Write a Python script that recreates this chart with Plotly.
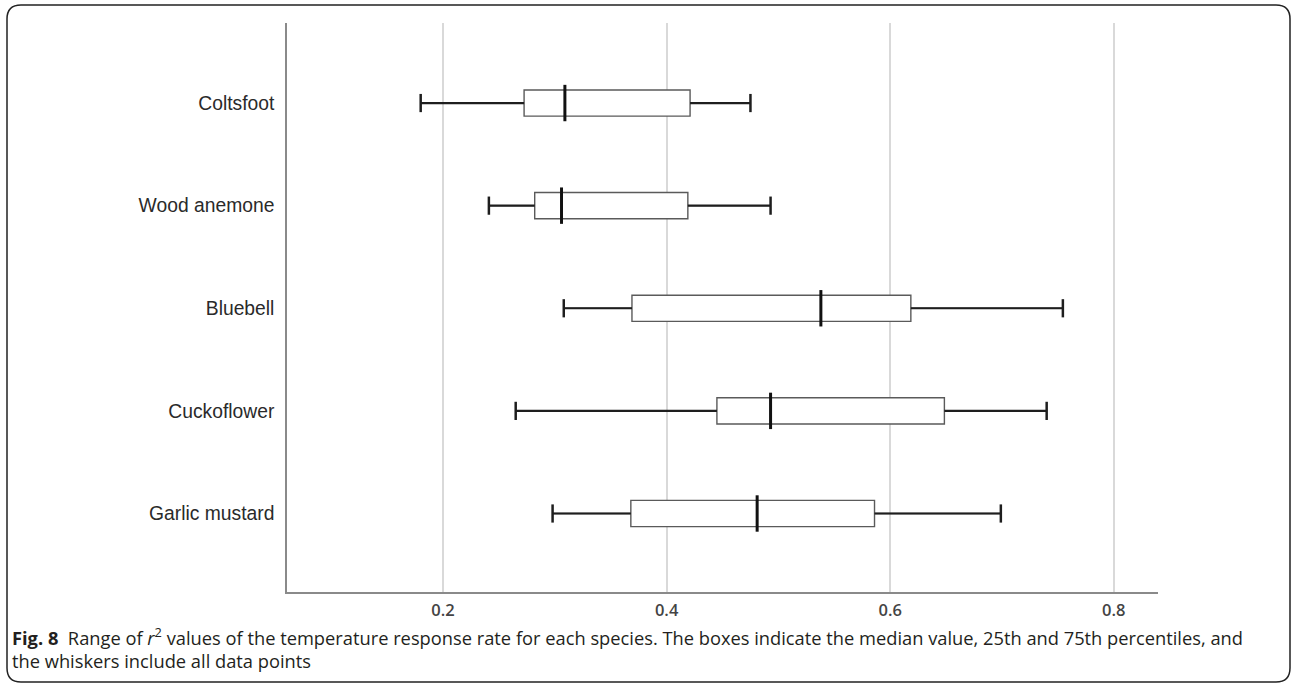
import plotly.graph_objects as go

W, H = 1292, 684

species = ["Coltsfoot", "Wood anemone", "Bluebell", "Cuckoflower", "Garlic mustard"]
low = [0.180, 0.241, 0.308, 0.265, 0.298]
q1 = [0.2725, 0.282, 0.369, 0.445, 0.368]
median = [0.309, 0.306, 0.538, 0.493, 0.481]
q3 = [0.421, 0.419, 0.6185, 0.6485, 0.586]
high = [0.475, 0.493, 0.7545, 0.740, 0.699]
x_ticks = [0.2, 0.4, 0.6, 0.8]
x_tick_labels = ["0.2", "0.4", "0.6", "0.8"]

pos = list(range(len(species)))

fig = go.Figure()

fig.add_trace(go.Box(
    y=pos, q1=q1, median=median, q3=q3, lowerfence=low, upperfence=high,
    orientation="h", width=0.255, fillcolor="white",
    line=dict(color="#5a5a5a", width=1.4), whiskerwidth=0,
    hoverinfo="skip", showlegend=False,
))

wx, wy = [], []
for i in pos:
    wx += [low[i], q1[i], None, q3[i], high[i], None]
    wy += [i, i, None, i, i, None]
fig.add_trace(go.Scatter(x=wx, y=wy, mode="lines",
                         line=dict(color="#1e1e1e", width=2.2),
                         hoverinfo="skip", showlegend=False))

fig.add_trace(go.Scatter(x=low + high, y=pos + pos, mode="markers",
                         marker=dict(symbol="line-ns", size=13,
                                     line=dict(color="#1e1e1e", width=2.5)),
                         hoverinfo="skip", showlegend=False))

fig.add_trace(go.Scatter(x=median, y=pos, mode="markers",
                         marker=dict(symbol="line-ns", size=26,
                                     line=dict(color="#111111", width=3)),
                         hoverinfo="skip", showlegend=False))

def px(x):
    return x / W

def py(y):
    return 1 - y / H

# rounded frame
x0, y0, x1, y1, r = 7, 5, 1290, 682, 14
path = (f"M {px(x0 + r)},{py(y0)} L {px(x1 - r)},{py(y0)} "
        f"Q {px(x1)},{py(y0)} {px(x1)},{py(y0 + r)} "
        f"L {px(x1)},{py(y1 - r)} Q {px(x1)},{py(y1)} {px(x1 - r)},{py(y1)} "
        f"L {px(x0 + r)},{py(y1)} Q {px(x0)},{py(y1)} {px(x0)},{py(y1 - r)} "
        f"L {px(x0)},{py(y0 + r)} Q {px(x0)},{py(y0)} {px(x0 + r)},{py(y0)} Z")
fig.add_shape(type="path", path=path, xref="paper", yref="paper",
              line=dict(color="#222222", width=1.5), fillcolor="rgba(0,0,0,0)")

caption = ("<b>Fig. 8</b>\u00a0\u00a0Range of <i>r</i><sup>2</sup> values of the temperature "
           "response rate for each species. The boxes indicate the median value, "
           "25th and 75th percentiles, and<br>the whiskers include all data points")
fig.add_annotation(text=caption, x=px(10), y=py(648), xref="paper", yref="paper",
                   xanchor="left", yanchor="middle", align="left", showarrow=False,
                   font=dict(family="Open Sans", size=18.3, color="#231f20"))

fig.update_layout(
    width=W, height=H,
    margin=dict(l=0, r=0, t=0, b=0),
    paper_bgcolor="white", plot_bgcolor="white",
    showlegend=False,
    xaxis=dict(
        domain=[287 / W, 1158 / W],
        range=[0.0604, 0.8396],
        tickvals=x_ticks, ticktext=x_tick_labels,
        showgrid=True, gridcolor="#d9d9d9", gridwidth=2,
        zeroline=False,
        showline=True, linecolor="#8a8a8a", linewidth=1.5,
        ticks="outside", ticklen=2, tickcolor="rgba(0,0,0,0)",
        tickfont=dict(family="Open Sans", size=16.5, color="#444444", weight=600),
        fixedrange=True,
    ),
    yaxis=dict(
        domain=[1 - 592 / H, 1 - 23 / H],
        range=[4.765, -0.78],
        tickvals=pos, ticktext=species,
        showgrid=False, zeroline=False,
        showline=True, linecolor="#8a8a8a", linewidth=1.5,
        ticks="outside", ticklen=7, tickcolor="rgba(0,0,0,0)",
        tickfont=dict(family="Liberation Sans", size=19.3, color="#2a2a2a"),
        fixedrange=True,
    ),
)

fig.write_html("out.html", config={"displayModeBar": False},
               post_script="document.body.style.margin='0';document.body.style.overflow='hidden';")
